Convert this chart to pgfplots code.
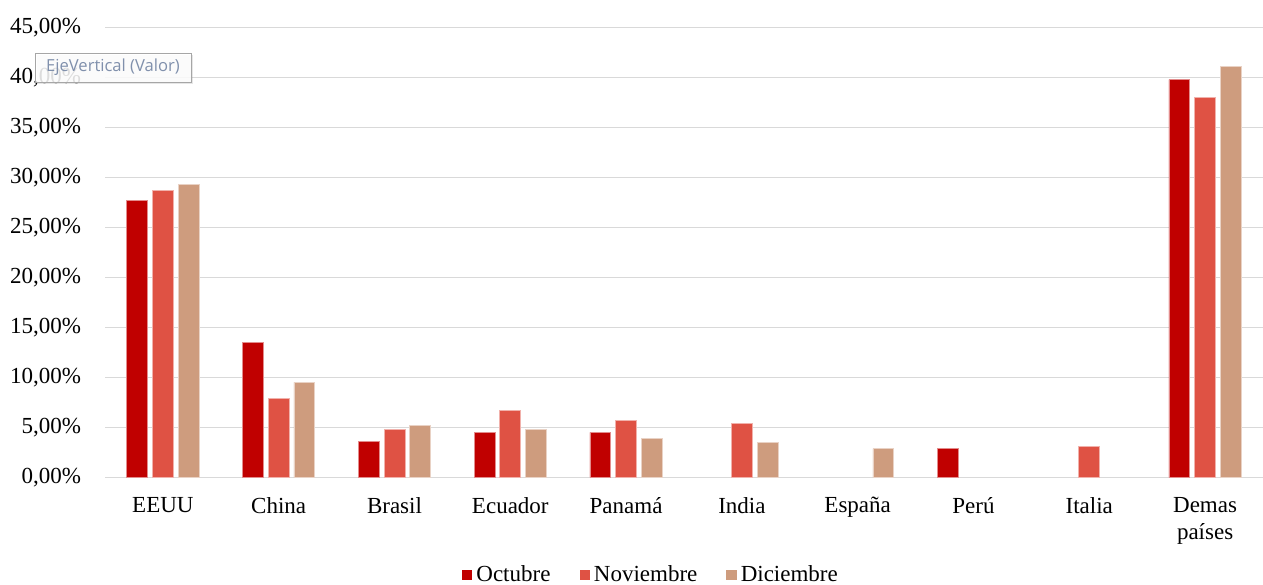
\documentclass[border=0pt]{standalone}
\usepackage{pgfplots}
\pgfplotsset{compat=1.18}
\usepackage{fontspec}
\setmainfont{Liberation Serif}
\newfontfamily\uifont{Open Sans}
\usetikzlibrary{shadows}
\definecolor{oct}{HTML}{C00000}
\definecolor{nov}{HTML}{DF5244}
\definecolor{dic}{HTML}{CE9C7E}
\definecolor{gridc}{HTML}{D9D9D9}
\definecolor{tipc}{HTML}{8090AC}
\pgfplotstableread{
x oct nov dic
0 27.66 28.70 29.26
1 13.50 7.90 9.50
2 3.60 4.80 5.20
3 4.50 6.70 4.76
4 4.50 5.66 3.90
5 nan 5.36 3.46
6 nan nan 2.86
7 2.86 nan nan
8 nan 3.13 nan
9 39.76 37.96 41.10
}\datatable
\begin{document}
\fontsize{11.5}{13.5}\selectfont
\begin{tikzpicture}
\path[use as bounding box] (0pt,0pt) rectangle (631.5pt,292pt);
\begin{axis}[
  at={(52.5pt,53.35pt)}, anchor=south west,
  scale only axis, width=579pt, height=225pt,
  xmin=-0.5, xmax=9.5, ymin=0, ymax=45,
  ytick={0,5,10,15,20,25,30,35,40,45},
  yticklabels={{0,00\%},{5,00\%},{10,00\%},{15,00\%},{20,00\%},{25,00\%},{30,00\%},{35,00\%},{40,00\%},{45,00\%}},
  xtick={0,1,2,3,4,5,6,7,8,9},
  xticklabels={EEUU,China,Brasil,Ecuador,Panamá,India,España,Perú,Italia,{Demas\\países}},
  xticklabel style={align=center, yshift=-6pt},
  yticklabel style={xshift=-8pt},
  major tick length=0pt,
  axis line style={draw=none},
  ymajorgrids, grid style={gridc, line width=0.6pt},
  ybar, bar width=0.181,
  unbounded coords=discard,
  clip=false,
  legend style={at={(0.4723,-0.217)}, anchor=center, draw=none, fill=none,
    legend columns=-1, /tikz/every even column/.append style={column sep=12.5pt},
    nodes={inner sep=2pt}},
  legend image code/.code={\path[#1,draw=none] (0pt,-2.6pt) rectangle (5.2pt,2.6pt);},
]
\addplot[fill=oct, draw=oct!45!white, line width=0.4pt, bar shift=-0.222] table[x=x,y=oct]{\datatable};
\addplot[fill=nov, draw=nov!45!white, line width=0.4pt, bar shift=0] table[x=x,y=nov]{\datatable};
\addplot[fill=dic, draw=dic!45!white, line width=0.4pt, bar shift=0.222] table[x=x,y=dic]{\datatable};
\legend{Octubre,Noviembre,Diciembre}
\end{axis}
\node[draw=gray!70, fill=white, fill opacity=0.85, text opacity=1,
  drop shadow={opacity=0.2, shadow xshift=1.2pt, shadow yshift=-1.2pt},
  minimum width=78pt, minimum height=14.5pt, inner sep=0pt, text=tipc,
  font=\uifont\fontsize{8.3}{9}\selectfont] at (56.5pt,258.25pt) {EjeVertical (Valor)};
\end{tikzpicture}
\end{document}
